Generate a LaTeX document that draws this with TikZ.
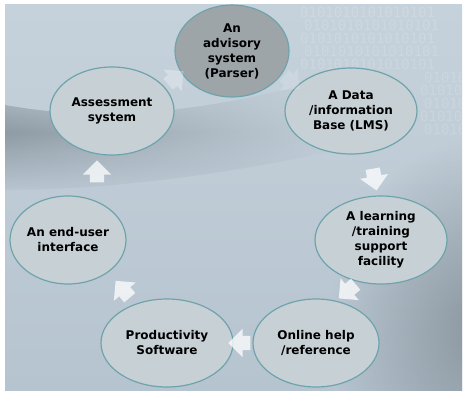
\documentclass[tikz,border=0pt]{standalone}
\usepackage{fontspec}
\setmainfont{DejaVu Sans}
\newfontfamily\binfont{DejaVu Sans Mono}
\usetikzlibrary{shapes.arrows,shapes.geometric,fadings}
\tikzfading[name=softblob, inner color=transparent!0, outer color=transparent!100]
\definecolor{bgbase}{HTML}{B6C4D0}
\definecolor{bglight}{HTML}{C6D2DB}
\definecolor{bgdark}{HTML}{7F8B93}
\definecolor{ellfill}{HTML}{C7D1D5}
\definecolor{ellline}{HTML}{6FA3AC}
\definecolor{topfill}{HTML}{9DA5A8}
\tikzset{
  cyc/.style={ellipse, draw=ellline, line width=1.2pt, fill=ellfill, inner sep=0pt,
    font=\bfseries\fontsize{12}{15}\selectfont, align=center, text=black},
  blockarrow/.style={single arrow, fill=white, draw=none, inner xsep=0pt, inner ysep=7pt,
    minimum height=22pt, single arrow head extend=7pt,
    single arrow head indent=0pt, fill opacity=0.75},
  bintext/.style={anchor=west, text=white, opacity=0.14,
    font=\binfont\fontsize{14pt}{14pt}\selectfont, inner sep=0},
}
\begin{document}
\begin{tikzpicture}[x=1pt,y=-1pt]
\useasboundingbox (0,0) rectangle (466,394);
\fill[white] (0,0) rectangle (466,394);
% background
\begin{scope}
\clip (5,4) rectangle (462,390);
\shade[top color=bglight, bottom color=bgbase] (5,4) rectangle (462,390);
% dark diagonal band (soft)
\shade[top color=bgbase, bottom color=bgbase, middle color=bgdark, opacity=0.75, path fading=east]
  (5,105) .. controls (100,122) and (200,115) .. (340,75) -- (340,150)
  .. controls (220,175) and (110,190) .. (5,190) -- cycle;
% grey right side
\fill[bgdark, opacity=0.8, path fading=softblob] (480,330) ellipse [x radius=150, y radius=190];
% binary texture
\foreach \r in {0,...,4}{
  \pgfmathsetmacro\yy{12+13*\r}
  \pgfmathsetmacro\xx{300+4*mod(\r,2)}
  \node[bintext] at (\xx,\yy) {0101010101010101};
}
\foreach \r in {5,...,9}{
  \pgfmathsetmacro\yy{12+13*\r}
  \pgfmathsetmacro\xx{420+4*mod(\r,2)}
  \node[bintext] at (\xx,\yy) {01010};
}
\end{scope}
% ellipses
\node[cyc, fill=topfill, minimum width=114pt, minimum height=92pt] (adv) at (232,51) {An\\advisory\\system\\(Parser)};
\node[cyc, minimum width=132pt, minimum height=86pt] (data) at (351,111) {A Data\\/information\\Base (LMS)};
\node[cyc, minimum width=132pt, minimum height=88pt] (learn) at (381,240) {A learning\\/training\\support\\facility};
\node[cyc, minimum width=126pt, minimum height=88pt] (help) at (316,343) {Online help\\/reference};
\node[cyc, minimum width=132pt, minimum height=88pt] (prod) at (167,343) {Productivity\\Software};
\node[cyc, minimum width=100pt, minimum height=88pt] (user) at (68,240) {An end-user\\interface};
\node[cyc, minimum width=124pt, minimum height=88pt] (assess) at (112,111) {Assessment\\system};
% block arrows
\node[blockarrow, rotate=40, fill opacity=0.3, minimum height=20pt] (a1) at (173,80) {};
\node[blockarrow, rotate=-40, fill opacity=0.15, minimum height=20pt] (a2) at (289,80) {};
\node[blockarrow, rotate=-80] (a3) at (374,176) {};
\node[blockarrow, rotate=220] (a4) at (350,289) {};
\node[blockarrow, rotate=180] (a5) at (243,343) {};
\node[blockarrow, rotate=130] (a6) at (125,292) {};
\node[blockarrow, rotate=90] (a7) at (97,175) {};
\end{tikzpicture}
\end{document}
